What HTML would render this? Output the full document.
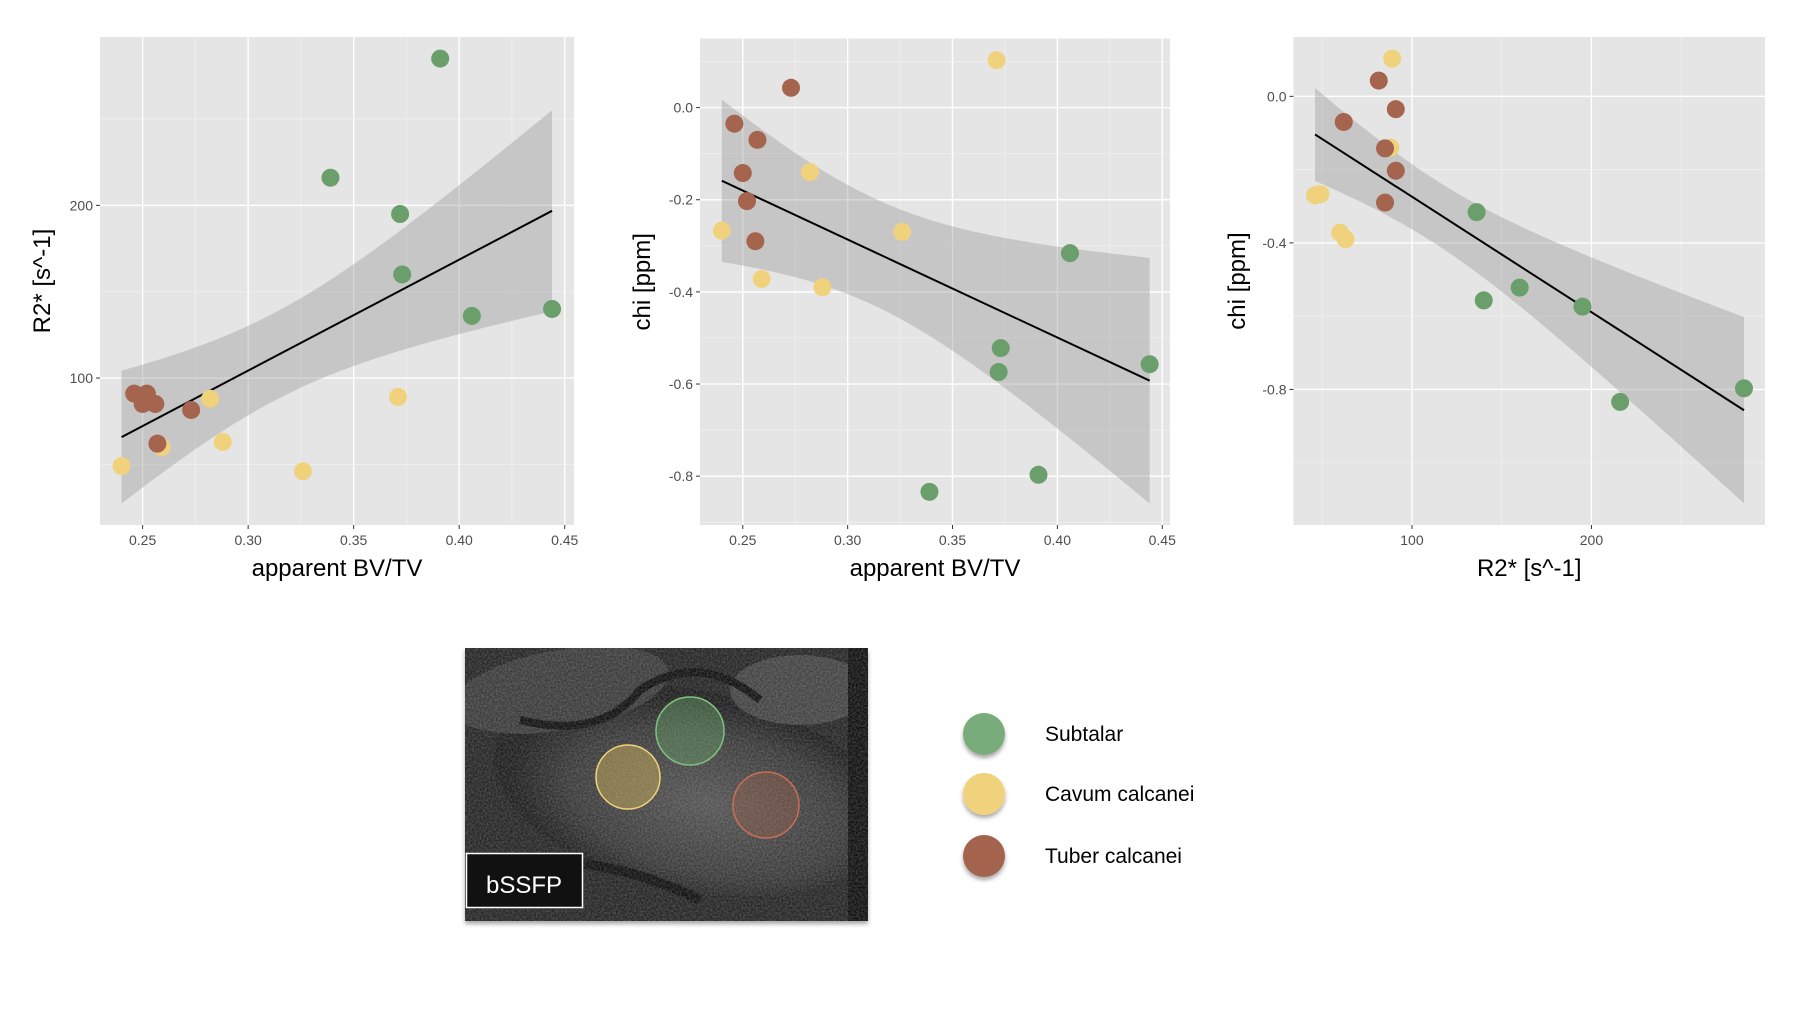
<!DOCTYPE html>
<html><head><meta charset="utf-8">
<style>
body{margin:0;background:#fff;}
svg{display:block;}
.tick{font-family:"Liberation Sans",sans-serif;font-size:14px;fill:#4d4d4d;}
.title{font-family:"Liberation Sans",sans-serif;font-size:24px;fill:#000;}
.leg{font-family:"Liberation Sans Narrow","Liberation Sans",sans-serif;font-size:21px;fill:#000;}
</style></head>
<body>
<svg id="root" width="1800" height="1013" viewBox="0 0 1800 1013" xmlns="http://www.w3.org/2000/svg">
<defs>
<filter id="sh" x="-50%" y="-50%" width="200%" height="200%"><feDropShadow dx="0" dy="3" stdDeviation="2" flood-color="#000" flood-opacity="0.35"/></filter>
<filter id="noise" filterUnits="userSpaceOnUse" x="465" y="648" width="403" height="273"><feTurbulence type="fractalNoise" baseFrequency="0.55" numOctaves="2" seed="3"/><feColorMatrix type="matrix" values="0 0 0 0 0.6  0 0 0 0 0.6  0 0 0 0 0.6  0 0 0 0.9 -0.25"/></filter>
<clipPath id="imgclip"><rect x="465" y="648" width="403" height="273"/></clipPath>
<radialGradient id="bone" cx="0.55" cy="0.55" r="0.5"><stop offset="0" stop-color="#555"/><stop offset="0.7" stop-color="#3a3a3a"/><stop offset="1" stop-color="#1e1e1e"/></radialGradient>
</defs>
<g id="plots"></g>

<g>
  <rect x="465" y="648" width="403" height="273" fill="#1e1e1e" filter="url(#sh)"/>
  <g clip-path="url(#imgclip)">
  <rect x="465" y="648" width="403" height="273" fill="#262626"/>
  <ellipse cx="690" cy="790" rx="200" ry="100" fill="url(#bone)" transform="rotate(12 690 790)"/>
  <ellipse cx="560" cy="690" rx="110" ry="40" fill="#3c3c3c" transform="rotate(-10 560 690)"/>
  <ellipse cx="800" cy="690" rx="70" ry="35" fill="#444"/>
  <path d="M520 720 Q600 740 640 690 Q700 650 760 700" stroke="#111" stroke-width="8" fill="none"/>
  <path d="M470 860 Q600 850 700 900" stroke="#111" stroke-width="10" fill="none"/>
  <rect x="848" y="648" width="20" height="273" fill="#111"/>
  <rect x="465" y="648" width="403" height="273" filter="url(#noise)" opacity="0.55"/>
  </g>
  <circle cx="690" cy="731" r="34" fill="#6a9e6b" fill-opacity="0.45" stroke="#7fc27f" stroke-width="1.5"/>
  <circle cx="628" cy="777" r="32" fill="#c8ad5a" fill-opacity="0.5" stroke="#f0d27c" stroke-width="1.5"/>
  <circle cx="766" cy="805" r="33" fill="#a4644d" fill-opacity="0.35" stroke="#c76f55" stroke-width="1.5"/>
  <rect x="466.5" y="853.5" width="116" height="54" fill="#111" stroke="#fff" stroke-width="1.5"/>
  <text x="486" y="893" font-family="Liberation Sans,sans-serif" font-size="24" fill="#fff">bSSFP</text>
</g>

<g>
  <g>
    <circle cx="984" cy="734" r="21" fill="#78ac7a" filter="url(#sh)"/>
    <text class="leg" x="1045" y="741">Subtalar</text>
  </g>
  <g>
    <circle cx="984" cy="794" r="21" fill="#f0d27c" filter="url(#sh)"/>
    <text class="leg" x="1045" y="801">Cavum calcanei</text>
  </g>
  <g>
    <circle cx="984" cy="856" r="21" fill="#a4644d" filter="url(#sh)"/>
    <text class="leg" x="1045" y="863">Tuber calcanei</text>
  </g>
</g>
</svg>
<script>
// Data (order: 6 subtalar, 6 cavum, 6 tuber)
const groups = ["Subtalar","Subtalar","Subtalar","Subtalar","Subtalar","Subtalar",
  "Cavum","Cavum","Cavum","Cavum","Cavum","Cavum",
  "Tuber","Tuber","Tuber","Tuber","Tuber","Tuber"];
const bvtv = [0.391,0.339,0.372,0.373,0.406,0.444, 0.240,0.282,0.259,0.288,0.326,0.371, 0.246,0.252,0.250,0.256,0.273,0.257];
const r2s  = [285,216,195,160,136,140, 49,88,60,63,46,89, 91,91,85,85,81.5,62];
const chi  = [-0.797,-0.834,-0.574,-0.522,-0.316,-0.557, -0.267,-0.140,-0.372,-0.390,-0.270,0.103, -0.035,-0.203,-0.142,-0.290,0.043,-0.070];
const xTicks1 = [0.25,0.30,0.35,0.40,0.45];
const xTickLabels1 = ["0.25","0.30","0.35","0.40","0.45"];
const yTicks1 = [100,200];
const yTickLabels1 = ["100","200"];
const yTicks2 = [0.0,-0.2,-0.4,-0.6,-0.8];
const yTickLabels2 = ["0.0","-0.2","-0.4","-0.6","-0.8"];
const xTicks3 = [100,200];
const xTickLabels3 = ["100","200"];
const yTicks3 = [0.0,-0.4,-0.8];
const yTickLabels3 = ["0.0","-0.4","-0.8"];

const colors = {Subtalar:"#6a9e6b",Cavum:"#f0d27c",Tuber:"#a4644d"};
const NS="http://www.w3.org/2000/svg";
const root=document.getElementById('plots');
function mk(tag,attrs,parent){const e=document.createElementNS(NS,tag);for(const k in attrs)e.setAttribute(k,attrs[k]);(parent||root).appendChild(e);return e;}

function panel(cfg){
  const g=mk('g',{});
  
  
  const sx=v=>cfg.x0+(v-cfg.xd[0])/(cfg.xd[1]-cfg.xd[0])*(cfg.x1-cfg.x0);
  const sy=v=>cfg.y1-(v-cfg.yd[0])/(cfg.yd[1]-cfg.yd[0])*(cfg.y1-cfg.y0);
  const bg=mk('rect',{x:cfg.x0,y:cfg.y0,width:cfg.x1-cfg.x0,height:cfg.y1-cfg.y0,fill:'#e5e5e5'},g);
  
  
  const xm=[],ym=[];
  for(let i=0;i<cfg.xt.length-1;i++)xm.push((cfg.xt[i]+cfg.xt[i+1])/2);
  const xs=cfg.xt[1]-cfg.xt[0]; xm.push(cfg.xt[0]-xs/2); xm.push(cfg.xt[cfg.xt.length-1]+xs/2);
  const yt=cfg.yt.slice().sort((a,b)=>a-b); const ys=yt[1]-yt[0];
  for(let i=0;i<yt.length-1;i++)ym.push((yt[i]+yt[i+1])/2);
  ym.push(yt[0]-ys/2); ym.push(yt[yt.length-1]+ys/2);
  xm.forEach(v=>{const p=sx(v);if(p>cfg.x0&&p<cfg.x1)mk('line',{x1:p,x2:p,y1:cfg.y0,y2:cfg.y1,stroke:'#f2f2f2','stroke-width':0.7},g);});
  ym.forEach(v=>{const p=sy(v);if(p>cfg.y0&&p<cfg.y1)mk('line',{x1:cfg.x0,x2:cfg.x1,y1:p,y2:p,stroke:'#f2f2f2','stroke-width':0.7},g);});
  cfg.xt.forEach((v,i)=>{const p=sx(v);
    mk('line',{x1:p,x2:p,y1:cfg.y0,y2:cfg.y1,stroke:'#fff','stroke-width':1.4},g);
    mk('line',{x1:p,x2:p,y1:cfg.y1,y2:cfg.y1+4,stroke:'#333','stroke-width':1},g);
    const t=mk('text',{x:p,y:cfg.y1+20,'text-anchor':'middle',class:'tick'},g);t.textContent=cfg.xl[i];
    
    
  });
  cfg.yt.forEach((v,i)=>{const p=sy(v);
    mk('line',{x1:cfg.x0,x2:cfg.x1,y1:p,y2:p,stroke:'#fff','stroke-width':1.4},g);
    mk('line',{x1:cfg.x0-4,x2:cfg.x0,y1:p,y2:p,stroke:'#333','stroke-width':1},g);
    const t=mk('text',{x:cfg.x0-7,y:p+5,'text-anchor':'end',class:'tick'},g);t.textContent=cfg.yl[i];
    
    
  });
  const X=cfg.xs,Y=cfg.ys,n=X.length;
  const mx=X.reduce((a,b)=>a+b)/n,my=Y.reduce((a,b)=>a+b)/n;
  let sxx=0,sxy=0;for(let i=0;i<n;i++){sxx+=(X[i]-mx)**2;sxy+=(X[i]-mx)*(Y[i]-my);}
  const b=sxy/sxx,a=my-b*mx;
  let sse=0;for(let i=0;i<n;i++)sse+=(Y[i]-a-b*X[i])**2;
  const s=Math.sqrt(sse/(n-2)),t=2.12;
  const xmin=Math.min(...X),xmax=Math.max(...X);
  const up=[],lo=[];
  for(let k=0;k<=60;k++){const xv=xmin+(xmax-xmin)*k/60;const f=a+b*xv;const se=s*Math.sqrt(1/n+(xv-mx)**2/sxx);
    up.push(sx(xv)+','+sy(f+t*se));lo.unshift(sx(xv)+','+sy(f-t*se));}
  const rib=mk('polygon',{points:up.concat(lo).join(' '),fill:'#999','fill-opacity':0.4},g);
  
  
  const ln=mk('line',{x1:sx(xmin),y1:sy(a+b*xmin),x2:sx(xmax),y2:sy(a+b*xmax),stroke:'#000','stroke-width':2},g);
  
  
  for(let i=0;i<n;i++){const c=mk('circle',{cx:sx(X[i]),cy:sy(Y[i]),r:9,fill:colors[cfg.gr[i]]},g);
    
    }
  const xt=mk('text',{x:(cfg.x0+cfg.x1)/2,y:cfg.y1+51,'text-anchor':'middle',class:'title'},g);xt.textContent=cfg.xtitle;
  
  
  const cy=(cfg.y0+cfg.y1)/2;
  const yt2=mk('text',{x:cfg.ytx,y:cy,'text-anchor':'middle',class:'title',transform:'rotate(-90 '+cfg.ytx+' '+cy+')'},g);yt2.textContent=cfg.ytitle;
  
  
}
panel({name:'chart-r2-vs-bvtv',x0:100,x1:574,y0:37,y1:525,xd:[0.2298,0.4544],yd:[14.9,297.5],
  xt:xTicks1,xl:xTickLabels1,yt:yTicks1,yl:yTickLabels1,xs:bvtv,ys:r2s,gr:groups,xtitle:'apparent BV/TV',ytitle:'R2* [s^-1]',ytx:50});
panel({name:'chart-chi-vs-bvtv',x0:700,x1:1170,y0:38.5,y1:525,xd:[0.2296,0.4537],yd:[-0.906,0.150],
  xt:xTicks1,xl:xTickLabels1,yt:yTicks2,yl:yTickLabels2,xs:bvtv,ys:chi,gr:groups,xtitle:'apparent BV/TV',ytitle:'chi [ppm]',ytx:650});
panel({name:'chart-chi-vs-r2',x0:1293.5,x1:1765,y0:37,y1:525,xd:[34,296.7],yd:[-1.17,0.162],
  xt:xTicks3,xl:xTickLabels3,yt:yTicks3,yl:yTickLabels3,xs:r2s,ys:chi,gr:groups,xtitle:'R2* [s^-1]',ytitle:'chi [ppm]',ytx:1245});
</script>
</body></html>
